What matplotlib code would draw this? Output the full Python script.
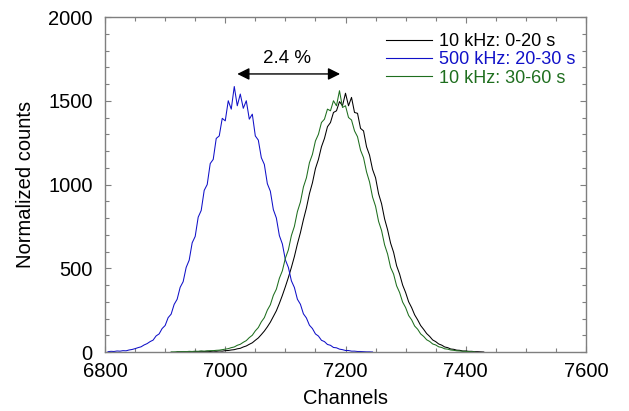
import numpy as np
import matplotlib
matplotlib.use("Agg")
import matplotlib.pyplot as plt
from matplotlib.ticker import MultipleLocator

plt.rcParams['font.family'] = ['Liberation Sans', 'DejaVu Sans']

# ---------------- data (5-channel bins) ----------------
blue_start = 6805
blue_counts = [2, 4, 3, 6, 5, 8, 7, 12, 15, 20,
               26, 31, 42, 50, 62, 71, 96, 108, 140, 158,
               205, 226, 284, 315, 386, 420, 505, 548, 652, 690,
               805, 845, 965, 1000, 1125, 1150, 1275, 1290, 1395, 1380,
               1500, 1450, 1585, 1470, 1540, 1455, 1500, 1390, 1420, 1290,
               1265, 1160, 1120, 1005, 960, 850, 800, 695, 645, 550,
               505, 425, 385, 315, 285, 228, 203, 160, 140, 108,
               95, 70, 62, 45, 40, 27, 25, 17, 14, 9,
               9, 5, 5, 3, 3, 2, 1, 1, 0]

black_start = 6920
black_counts = [1, 1, 2, 1, 2, 3, 2, 3, 4, 3,
                4, 3, 5, 4, 6, 5, 8, 9, 12, 14,
                19, 22, 30, 36, 46, 55, 70, 84, 104, 125,
                150, 178, 212, 246, 290, 338, 390, 445, 505, 570,
                645, 712, 790, 860, 945, 1010, 1095, 1150, 1225, 1275,
                1345, 1370, 1430, 1440, 1495, 1470, 1545, 1470, 1520, 1430,
                1425, 1335, 1320, 1225, 1175, 1090, 1040, 945, 885, 795,
                730, 650, 595, 515, 465, 400, 355, 300, 265, 222,
                192, 158, 135, 110, 93, 72, 62, 48, 41, 30,
                26, 18, 16, 11, 10, 6, 6, 4, 4, 2,
                2, 1, 0]

green_start = 6910
green_counts = [1, 1, 2, 2, 3, 2, 4, 3, 5, 4,
                6, 5, 7, 8, 8, 10, 11, 14, 17, 20,
                26, 30, 40, 46, 58, 68, 86, 100, 126, 146,
                180, 205, 250, 282, 338, 375, 440, 485, 560, 610,
                695, 750, 838, 895, 985, 1040, 1130, 1180, 1260, 1300,
                1370, 1390, 1450, 1440, 1500, 1470, 1560, 1460, 1470, 1400,
                1385, 1320, 1285, 1205, 1160, 1075, 1015, 925, 870, 780,
                725, 640, 585, 505, 465, 395, 355, 298, 265, 218,
                192, 155, 136, 108, 93, 73, 63, 48, 42, 31,
                27, 19, 17, 12, 10, 7, 6, 4, 4, 2,
                2, 1]

bin_width = 5
labels = ["10 kHz: 0-20 s", "500 kHz: 20-30 s", "10 kHz: 30-60 s"]
colors = ["#000000", "#1010c8", "#1e6e1e"]

shift_text = "2.4 %"
arrow_from = 7020
arrow_to = 7191
arrow_y = 1660

# ---------------- figure ----------------
fig = plt.figure(figsize=(6.29, 4.11), dpi=100)
ax = fig.add_axes([105/629, 1-352/411, 481/629, 335/411])

series = [(black_start, black_counts), (blue_start, blue_counts), (green_start, green_counts)]
for (start, counts), col, lab in zip(series, colors, labels):
    x = start + bin_width*np.arange(len(counts))
    ax.plot(x, counts, color=col, lw=0.75, label=lab)

ax.set_xlim(6800, 7600)
ax.set_ylim(0, 2000)
ax.xaxis.set_major_locator(MultipleLocator(200))
ax.xaxis.set_minor_locator(MultipleLocator(50))
ax.yaxis.set_major_locator(MultipleLocator(500))
ax.yaxis.set_minor_locator(MultipleLocator(100))

gray = '#7f7f7f'
for s in ax.spines.values():
    s.set_color(gray)
    s.set_linewidth(1.0)
ax.tick_params(which='both', direction='in', top=True, right=True, color=gray,
               labelsize=14.5, width=0.8)
ax.tick_params(which='major', length=4.5)
ax.tick_params(which='minor', length=3)
ax.tick_params(axis='y', which='both', pad=9)
ax.tick_params(axis='x', which='both', pad=7)

ax.set_xlabel("Channels", fontsize=14.5, labelpad=6)
ax.set_ylabel("Normalized counts", fontsize=14.5, labelpad=9)

ax.annotate('', xy=(arrow_from, arrow_y), xytext=(arrow_to, arrow_y),
            arrowprops=dict(arrowstyle='<|-|>', color='black', lw=1.0,
                            mutation_scale=18, shrinkA=0, shrinkB=0))
ax.text((arrow_from+arrow_to)/2 - 2, arrow_y + 40, shift_text, ha='center', va='bottom',
        fontsize=13.5)

leg = ax.legend(loc='upper right', frameon=False, fontsize=13, handlelength=2.6,
                handletextpad=0.35, labelspacing=0.08, borderaxespad=0.2,
                bbox_to_anchor=(1.0, 0.985), labelcolor='linecolor')
for h in leg.legend_handles:
    h.set_linewidth(0.8)

fig.savefig("out.png", dpi=100)
